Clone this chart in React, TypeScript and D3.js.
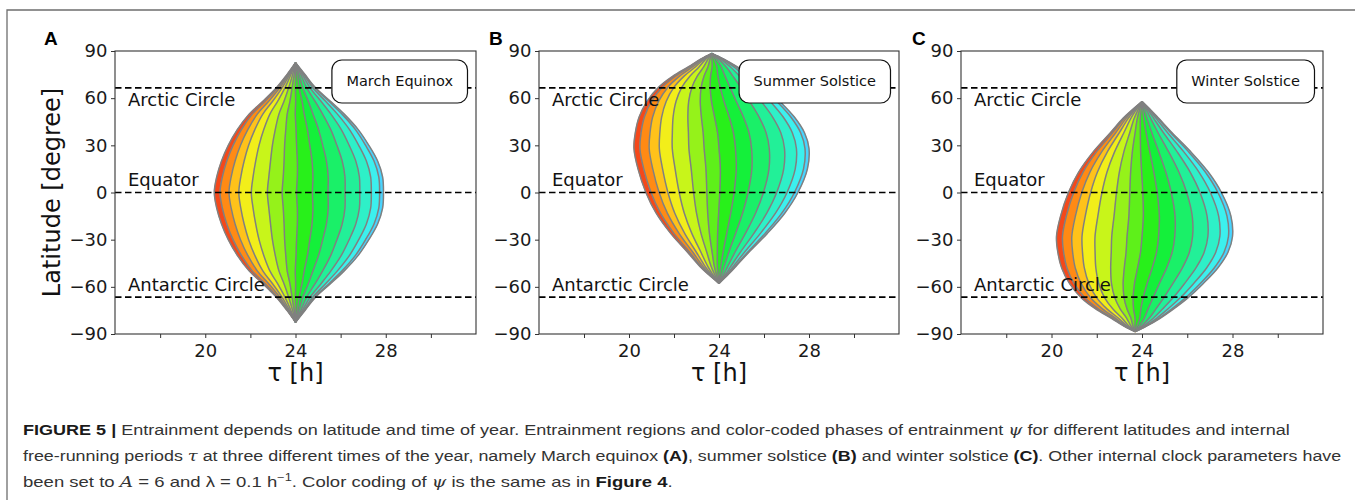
import { useEffect, useRef } from "react";
import * as d3 from "d3";

// axes
const TAU_DOMAIN = [16, 32];
const LAT_DOMAIN = [-90, 90];
const TAU_TICKS = [18, 20, 22, 24, 26, 28, 30];
const TAU_LABELS = [20, 24, 28];
const LAT_TICKS = [-90, -60, -30, 0, 30, 60, 90];

const PANEL_LETTERS = ["A", "B", "C"];
const SEASONS = ["March Equinox", "Summer Solstice", "Winter Solstice"];

const CIRCLE_NAMES = ["Arctic Circle", "Equator", "Antarctic Circle"];
const CIRCLE_LATS = [66.56, 0, -66.56];

// entrainment region outline, tau [h] of left / right edge at each latitude
const latA = [82.5, 75, 66.9, 58, 50, 40, 30, 20, 10, 0, -10, -20, -30, -40, -50, -58, -66.9, -75, -82.5];
const leftA = [24.0, 23.62, 23.17, 22.55, 21.95, 21.42, 21.02, 20.72, 20.51, 20.4, 20.51, 20.72, 21.02, 21.42, 21.95, 22.55, 23.17, 23.62, 24.0];
const rightA = [24.0, 24.42, 24.87, 25.55, 26.15, 26.78, 27.25, 27.64, 27.86, 27.9, 27.86, 27.64, 27.25, 26.78, 26.15, 25.55, 24.87, 24.42, 24.0];

const latB = [88.5, 85, 80, 74, 67, 58, 48, 38, 28, 15, 0, -13, -26, -38, -47, -52, -57.8];
const leftB = [23.68, 23.2, 22.65, 21.95, 21.32, 20.8, 20.45, 20.28, 20.22, 20.4, 20.75, 21.2, 21.85, 22.6, 23.15, 23.52, 24.0];
const rightB = [23.68, 24.2, 24.8, 25.4, 26.03, 26.7, 27.35, 27.8, 28.0, 27.93, 27.51, 26.93, 26.15, 25.33, 24.75, 24.42, 24.0];

const latC = [57.8, 52, 47, 38, 26, 13, 0, -15, -28, -38, -48, -58, -67, -74, -80, -85, -88.5];
const leftC = [24.0, 23.52, 23.15, 22.6, 21.85, 21.2, 20.75, 20.4, 20.22, 20.28, 20.45, 20.8, 21.32, 21.95, 22.65, 23.2, 23.7];
const rightC = [24.0, 24.42, 24.75, 25.33, 26.15, 26.93, 27.51, 27.93, 28.0, 27.8, 27.35, 26.7, 26.03, 25.4, 24.8, 24.2, 23.7];

// iso-phase lines, as share of the region width (left -> right)
const PHASE_LINES = [0.034, 0.087, 0.145, 0.219, 0.314, 0.401, 0.486, 0.58, 0.672, 0.773, 0.86, 0.928, 0.977];
const STRIPE_COLORS = [
  "#f5481a", "#ff8a14", "#ffc21a", "#f2ee1a", "#c8f51a", "#95f21a", "#5ef01a",
  "#28f01a", "#14f03a", "#1af068", "#22f098", "#2ef0c8", "#3cf0ee", "#48d4ff",
];

const REGIONS = [
  { lat: latA, left: leftA, right: rightA },
  { lat: latB, left: leftB, right: rightB },
  { lat: latC, left: leftC, right: rightC },
];

// layout
const PANEL_X = [[115, 476], [539, 899], [961, 1323]];
const TOP = 51, BOTTOM = 334;
const LETTER_X = [44, 489, 912];
const FONT = "'DejaVu Sans', sans-serif";
const CAP_FONT = "'Liberation Sans', Arial, sans-serif";

type Piece = { t: string; b?: boolean; i?: boolean; sup?: boolean };
const CAPTION: { pieces: Piece[]; width: number }[] = [
  { width: 1267, pieces: [
    { t: "FIGURE 5 |", b: true },
    { t: " Entrainment depends on latitude and time of year. Entrainment regions and color-coded phases of entrainment " },
    { t: "ψ", i: true },
    { t: " for different latitudes and internal" },
  ] },
  { width: 1319, pieces: [
    { t: "free-running periods " }, { t: "τ", i: true },
    { t: " at three different times of the year, namely March equinox " }, { t: "(A)", b: true },
    { t: ", summer solstice " }, { t: "(B)", b: true }, { t: " and winter solstice " }, { t: "(C)", b: true },
    { t: ". Other internal clock parameters have" },
  ] },
  { width: 650, pieces: [
    { t: "been set to " }, { t: "A", i: true }, { t: " = 6 and λ = 0.1 h" }, { t: "−1", sup: true },
    { t: ". Color coding of " }, { t: "ψ", i: true }, { t: " is the same as in " }, { t: "Figure 4", b: true }, { t: "." },
  ] },
];

type P = { lat: number; l: number; r: number };

export default function App() {
  const ref = useRef<SVGSVGElement>(null);

  useEffect(() => {
    if (!ref.current) return;
    const svg = d3.select(ref.current);
    svg.selectAll("*").remove();

    // frame
    svg.append("path").attr("d", "M7,500 V10 H1355").attr("fill", "none").attr("stroke", "#6e6e6e").attr("stroke-width", 1.3);

    const y = d3.scaleLinear().domain(LAT_DOMAIN).range([BOTTOM, TOP]);
    const edges = [0, ...PHASE_LINES, 1];
    const tauAt = (p: P, f: number) => p.l + f * (p.r - p.l);

    PANEL_X.forEach((range, pi) => {
      const x = d3.scaleLinear().domain(TAU_DOMAIN).range(range);
      const g = svg.append("g");
      const reg = REGIONS[pi];
      const pts: P[] = reg.lat.map((lat, i) => ({ lat, l: reg.left[i], r: reg.right[i] }));

      for (let k = 0; k < edges.length - 1; k++) {
        const area = d3.area<P>()
          .y(p => y(p.lat))
          .x0(p => x(tauAt(p, edges[k])))
          .x1(p => x(tauAt(p, edges[k + 1])))
          .curve(d3.curveCatmullRom);
        g.append("path").attr("d", area(pts)).attr("fill", STRIPE_COLORS[k])
          .attr("stroke", STRIPE_COLORS[k]).attr("stroke-width", 0.6);
      }
      edges.forEach(f => {
        const line = d3.line<P>().x(p => x(tauAt(p, f))).y(p => y(p.lat)).curve(d3.curveCatmullRom);
        g.append("path").attr("d", line(pts)).attr("fill", "none").attr("stroke", "#808080").attr("stroke-width", 1.5);
      });

      // circles of latitude
      CIRCLE_LATS.forEach((lat, ci) => {
        g.append("line").attr("x1", range[0]).attr("x2", range[1]).attr("y1", y(lat)).attr("y2", y(lat))
          .attr("stroke", "#000").attr("stroke-width", 1.7).attr("stroke-dasharray", "6.5,3.5");
        g.append("text").attr("x", range[0] + 13).attr("y", y(lat) + (lat > 0 ? 18.5 : -6.5))
          .attr("font-family", FONT).attr("font-size", 18).attr("fill", "#111").text(CIRCLE_NAMES[ci]);
      });

      // axes
      const xa = g.append("g").attr("transform", `translate(0,${BOTTOM})`)
        .call(d3.axisBottom(x).tickValues(TAU_TICKS).tickSize(4).tickPadding(6)
          .tickFormat(d => (TAU_LABELS.includes(+d) ? String(d) : "")));
      const ya = g.append("g").attr("transform", `translate(${range[0]},0)`)
        .call(d3.axisLeft(y).tickValues(LAT_TICKS).tickSize(4).tickPadding(3.5));
      [xa, ya].forEach(a => {
        a.select(".domain").remove();
        a.selectAll("line").attr("stroke", "#333").attr("stroke-width", 1);
        a.selectAll("text").attr("font-family", FONT).attr("font-size", 18).attr("fill", "#1a1a1a");
      });
      g.append("rect").attr("x", range[0]).attr("y", TOP).attr("width", range[1] - range[0]).attr("height", BOTTOM - TOP)
        .attr("fill", "none").attr("stroke", "#333").attr("stroke-width", 1.1);

      g.append("text").attr("x", (range[0] + range[1]) / 2).attr("y", 381).attr("text-anchor", "middle")
        .attr("font-family", FONT).attr("font-size", 24).attr("fill", "#111").text("τ [h]");

      // season box
      const box = g.append("g");
      const rect = box.append("rect");
      const label = box.append("text").attr("font-family", FONT).attr("font-size", 14.5).attr("fill", "#111")
        .attr("text-anchor", "middle").attr("y", 86).text(SEASONS[pi]);
      const w = (label.node() as SVGTextElement).getComputedTextLength() + 29;
      const right = range[1] - 8.5;
      rect.attr("x", right - w).attr("y", 60).attr("width", w).attr("height", 43).attr("rx", 10)
        .attr("fill", "#fff").attr("stroke", "#111").attr("stroke-width", 1.2);
      label.attr("x", right - w / 2);

      svg.append("text").attr("x", LETTER_X[pi]).attr("y", 45).attr("font-family", CAP_FONT)
        .attr("font-weight", "bold").attr("font-size", 19).attr("fill", "#000").text(PANEL_LETTERS[pi]);
    });

    svg.append("text").attr("transform", "translate(59.5,192.5) rotate(-90)").attr("text-anchor", "middle")
      .attr("font-family", FONT).attr("font-size", 24).attr("fill", "#111").text("Latitude [degree]");

    // caption
    CAPTION.forEach((ln, li) => {
      const base = 435 + li * 26;
      const t = svg.append("text").attr("x", 23).attr("y", base).attr("font-family", CAP_FONT)
        .attr("font-size", 14.5).attr("fill", "#333");
      let lifted = false;
      ln.pieces.forEach(pc => {
        const s = t.append("tspan").text(pc.t);
        if (pc.b) s.attr("font-weight", "bold").attr("fill", "#1a1a1a");
        if (pc.i) s.attr("font-style", "italic").attr("font-family", "'DejaVu Serif', serif");
        if (pc.sup) { s.attr("font-size", 10).attr("dy", -6); lifted = true; }
        else if (lifted) { s.attr("dy", 6); lifted = false; }
      });
      const natural = (t.node() as SVGTextElement).getComputedTextLength();
      t.attr("transform", `translate(23,0) scale(${ln.width / natural},1) translate(-23,0)`);
    });
  }, []);

  return (
    <svg ref={ref} width={1355} height={500}
      style={{ position: "absolute", left: 0, top: 0, background: "#fff" }} />
  );
}
